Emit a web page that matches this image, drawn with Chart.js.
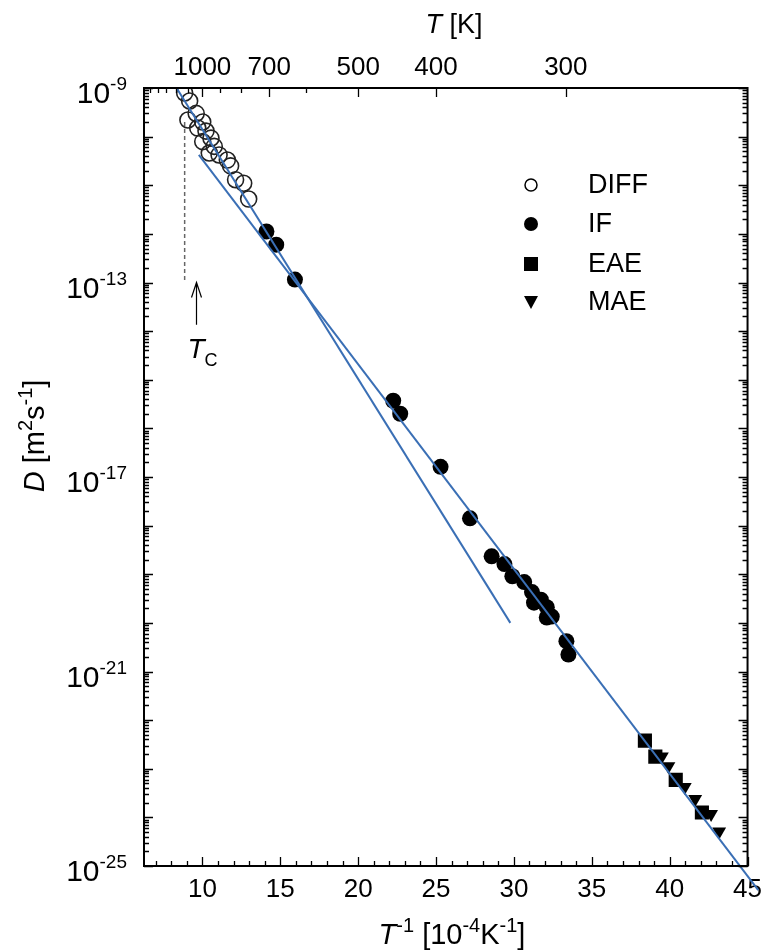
<!DOCTYPE html>
<html>
<head>
<meta charset="utf-8">
<script src="https://cdn.jsdelivr.net/npm/chart.js@4.4.0/dist/chart.umd.min.js"></script>
<style>
  html, body { margin: 0; padding: 0; background: #ffffff; }
</style>
</head>
<body>
<canvas id="grafico_difusion" width="770" height="952"></canvas>
<script>
// valores: T^-1 en 10^-4 K^-1, D en m^2 s^-1
let diffX = [8.86, 9.18, 9.07, 9.60, 10.02, 9.70, 10.23, 10.55, 10.02, 10.76, 10.44, 11.07, 11.60, 11.81, 12.13, 12.65, 12.97];
let diffD = [7.9e-10, 5.4e-10, 2.2e-10, 3.0e-10, 2.0e-10, 1.5e-10, 1.3e-10, 9.3e-11, 7.9e-11, 6.3e-11, 4.6e-11, 4.2e-11, 3.3e-11, 2.5e-11, 1.3e-11, 1.1e-11, 5.2e-12];

let ifX = [14.11, 14.74, 15.94, 22.25, 22.70, 25.29, 27.18, 28.57, 29.39, 29.90, 30.66, 31.16, 31.73, 31.29, 32.11, 32.43, 32.11, 33.37, 33.50];
let ifD = [1.12e-12, 6.0e-13, 1.15e-13, 3.7e-16, 2.0e-16, 1.62e-17, 1.41e-18, 2.34e-19, 1.62e-19, 9.1e-20, 6.9e-20, 4.3e-20, 3.0e-20, 2.6e-20, 2.1e-20, 1.35e-20, 1.29e-20, 4.2e-21, 2.24e-21];

let eaeX = [38.41, 39.08, 40.39, 42.07];
let eaeD = [3.8e-23, 1.78e-23, 5.9e-24, 1.26e-24];

let maeX = [39.50, 39.92, 40.97, 41.64, 42.66, 43.18];
let maeD = [1.78e-23, 1.12e-23, 4.2e-24, 2.4e-24, 1.17e-24, 5.1e-25];

// rectas de ajuste
let ajusteAX = [8.34, 29.77];
let ajusteAD = [1.0e-9, 1.0e-20];
let ajusteBX = [9.77, 45.69];
let ajusteBD = [4.2e-11, 3.2e-26];

// temperatura de Curie
let curieX = [8.86, 8.86];
let curieD = [2.0e-10, 1.0e-13];
let flechaX = 9.62;
let flechaD = [1.0e-13, 1.35e-14];

let xTicks = [10, 15, 20, 25, 30, 35, 40, 45];
let tLabels = [1000, 700, 500, 400, 300];
let tMenores = [1500, 1400, 1300, 1200, 1100, 900, 800, 600];
let yExpLabels = [-9, -13, -17, -21, -25];
let leyenda = ['DIFF', 'IF', 'EAE', 'MAE'];

const FUENTE = '"Liberation Sans", Arial, Helvetica, sans-serif';
const TAM = 26;
const AZUL = '#3a6fb5';

function puntos(xs, ys) {
  return xs.map((v, i) => ({ x: v, y: ys[i] }));
}

function textoCompuesto(ctx, partes, x, y, align, size, rel) {
  // partes: [texto, estilo]; estilo '' normal, 'i' italica, 's' superindice, 'b' subindice
  rel = rel || 0.68;
  const fuente = p => (p[1] === 'i' ? 'italic ' : '') + ((p[1] === 's' || p[1] === 'b') ? Math.round(size * rel) : size) + 'px ' + FUENTE;
  let ancho = 0;
  partes.forEach(p => { ctx.font = fuente(p); ancho += ctx.measureText(p[0]).width; });
  let cx = align === 'center' ? x - ancho / 2 : (align === 'right' ? x - ancho : x);
  ctx.textAlign = 'left';
  ctx.textBaseline = 'alphabetic';
  partes.forEach(p => {
    ctx.font = fuente(p);
    let dy = p[1] === 's' ? -size * 0.42 : (p[1] === 'b' ? size * 0.28 : 0);
    ctx.fillText(p[0], cx, y + dy);
    cx += ctx.measureText(p[0]).width;
  });
}

const marcoPlugin = {
  id: 'marco',
  afterDraw(chart) {
    const ctx = chart.ctx, a = chart.chartArea;
    const sx = chart.scales.x, sy = chart.scales.y;
    ctx.save();
    ctx.strokeStyle = '#000';
    ctx.fillStyle = '#000';
    ctx.lineWidth = 2;
    ctx.strokeRect(a.left, a.top, a.right - a.left, a.bottom - a.top);

    // marcas hacia adentro
    ctx.lineWidth = 1.3;
    ctx.beginPath();
    for (let v = 7; v <= 45; v++) {
      const px = Math.round(sx.getPixelForValue(v)) + 0.5;
      const l = v % 5 === 0 ? 9 : 5;
      ctx.moveTo(px, a.bottom); ctx.lineTo(px, a.bottom - l);
    }
    tLabels.concat(tMenores).forEach(t => {
      const px = Math.round(sx.getPixelForValue(10000 / t)) + 0.5;
      const l = tLabels.indexOf(t) >= 0 ? 9 : 5;
      ctx.moveTo(px, a.top); ctx.lineTo(px, a.top + l);
    });
    for (let e = -25; e <= -9; e++) {
      for (let m = 1; m <= 9; m++) {
        if (e === -9 && m > 1) break;
        const py = Math.round(sy.getPixelForValue(m * Math.pow(10, e))) + 0.5;
        const l = m === 1 ? 9 : 5;
        ctx.moveTo(a.left, py); ctx.lineTo(a.left + l, py);
        ctx.moveTo(a.right, py); ctx.lineTo(a.right - l, py);
      }
    }
    ctx.stroke();

    // etiquetas del eje y con exponente
    yExpLabels.forEach(e => {
      const py = sy.getPixelForValue(Math.pow(10, e));
      textoCompuesto(ctx, [['10', ''], [String(e), 's']], 127, py + 15, 'right', 30, 0.62);
    });

    // titulos
    textoCompuesto(ctx, [['T', 'i'], [' [K]', '']], 454, 33, 'center', 27);
    textoCompuesto(ctx, [['T', 'i'], ['-1', 's'], [' [10', ''], ['-4', 's'], ['K', ''], ['-1', 's'], [']', '']], 452, 944, 'center', 29, 0.7);
    ctx.save();
    ctx.translate(34, 436);
    ctx.rotate(-Math.PI / 2);
    textoCompuesto(ctx, [['D', 'i'], [' [m', ''], ['2', 's'], ['s', ''], ['-1', 's'], [']', '']], 0, 10, 'center', 29, 0.7);
    ctx.restore();

    // flecha y T_C
    const fx = Math.round(sx.getPixelForValue(flechaX)) + 0.5;
    const fy1 = sy.getPixelForValue(flechaD[0]);
    const fy2 = sy.getPixelForValue(flechaD[1]);
    ctx.lineWidth = 1.2;
    ctx.beginPath();
    ctx.moveTo(fx, fy1); ctx.lineTo(fx, fy2);
    ctx.moveTo(fx - 5, fy1 + 15); ctx.lineTo(fx, fy1); ctx.lineTo(fx + 5, fy1 + 15);
    ctx.stroke();
    textoCompuesto(ctx, [['T', 'i'], ['C', 'b']], fx + 6, fy2 + 33, 'center', 28, 0.65);

    // leyenda
    const lx = 531, ltx = 588, ly = [185, 224, 264, 302];
    leyenda.forEach((nombre, i) => {
      const y = ly[i];
      ctx.lineWidth = 1.5;
      ctx.beginPath();
      if (i === 0) {
        ctx.arc(lx, y, 6, 0, Math.PI * 2); ctx.stroke();
      } else if (i === 1) {
        ctx.arc(lx, y, 7, 0, Math.PI * 2); ctx.fill();
      } else if (i === 2) {
        ctx.fillRect(lx - 7, y - 7, 14, 14);
      } else {
        ctx.moveTo(lx - 7, y - 6); ctx.lineTo(lx + 7, y - 6); ctx.lineTo(lx, y + 7); ctx.closePath(); ctx.fill();
      }
      ctx.font = '27px ' + FUENTE;
      ctx.textAlign = 'left';
      ctx.textBaseline = 'middle';
      ctx.fillText(nombre, ltx, y + 1);
    });
    ctx.restore();
  }
};

function cargarGrafico() {
  const ctx = document.getElementById('grafico_difusion').getContext('2d');
  const datos = {
    datasets: [
      { label: 'ajusteA', data: puntos(ajusteAX, ajusteAD), showLine: true, borderColor: AZUL, borderWidth: 2, pointRadius: 0, order: 0 },
      { label: 'ajusteB', data: puntos(ajusteBX, ajusteBD), showLine: true, borderColor: AZUL, borderWidth: 2, pointRadius: 0, order: 0, clip: false },
      { label: 'curie', data: puntos(curieX, curieD), showLine: true, borderColor: '#666', borderWidth: 1.5, borderDash: [4, 3], pointRadius: 0, order: 2 },
      { label: leyenda[0], data: puntos(diffX, diffD), pointStyle: 'circle', pointRadius: 8, backgroundColor: 'rgba(255,255,255,0)', borderColor: '#222', borderWidth: 1.6, order: 1 },
      { label: leyenda[1], data: puntos(ifX, ifD), pointStyle: 'circle', pointRadius: 8, backgroundColor: '#000', borderColor: '#000', borderWidth: 0, order: 1 },
      { label: leyenda[2], data: puntos(eaeX, eaeD), pointStyle: 'rect', pointRadius: 10, backgroundColor: '#000', borderColor: '#000', borderWidth: 0, order: 1 },
      { label: leyenda[3], data: puntos(maeX, maeD), pointStyle: 'triangle', rotation: 180, pointRadius: 8, backgroundColor: '#000', borderColor: '#000', borderWidth: 0, order: 1 }
    ]
  };

  const fuenteTicks = { family: FUENTE, size: TAM };
  const config = {
    type: 'scatter',
    data: datos,
    options: {
      responsive: false,
      animation: false,
      devicePixelRatio: 1,
      layout: { padding: 0 },
      plugins: { legend: { display: false }, tooltip: { enabled: false } },
      scales: {
        x: {
          type: 'linear', position: 'bottom', min: 6.25, max: 45,
          grid: { display: false, drawTicks: false }, border: { display: false },
          afterBuildTicks: s => { s.ticks = xTicks.map(v => ({ value: v })); },
          afterFit: s => { s.height = 86; },
          ticks: { font: fuenteTicks, color: '#000', padding: 8, maxRotation: 0 }
        },
        xTop: {
          type: 'linear', position: 'top', min: 6.25, max: 45,
          grid: { display: false, drawTicks: false }, border: { display: false },
          afterBuildTicks: s => { s.ticks = tLabels.map(t => ({ value: 10000 / t })); },
          afterFit: s => { s.height = 88; },
          ticks: { font: fuenteTicks, color: '#000', padding: 5, maxRotation: 0, callback: v => String(Math.round(10000 / v)) }
        },
        y: {
          type: 'logarithmic', position: 'left', min: 1e-25, max: 1e-9,
          grid: { display: false, drawTicks: false }, border: { display: false },
          ticks: { display: false },
          afterFit: s => { s.width = 144; }
        },
        yRight: {
          type: 'logarithmic', position: 'right', min: 1e-25, max: 1e-9,
          grid: { display: false, drawTicks: false }, border: { display: false },
          ticks: { display: false },
          afterFit: s => { s.width = 12; }
        }
      }
    },
    plugins: [marcoPlugin]
  };

  new Chart(ctx, config);
}

cargarGrafico();
</script>
</body>
</html>
